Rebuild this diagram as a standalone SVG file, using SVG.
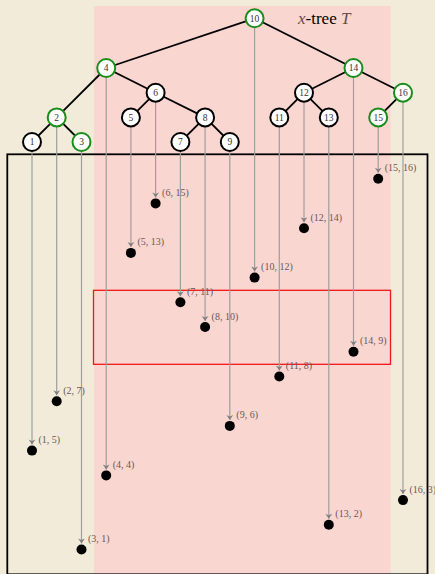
<svg xmlns="http://www.w3.org/2000/svg" width="435" height="574" viewBox="0 0 435 574">
<defs>
<marker id="arr" viewBox="-6 -4 7 8" refX="0" refY="0" markerWidth="7" markerHeight="8" markerUnits="userSpaceOnUse" orient="auto">
<path d="M-5,-3.4 L0,0 L-5,3.4 L-3.5,0 z" fill="#808080"/>
</marker>
<style>
.edge{stroke:#000;stroke-width:1.8;fill:none}
.drop{stroke:#9e9e9e;stroke-width:1.2;fill:none;marker-end:url(#arr)}
.n circle{fill:#fff;stroke:#000;stroke-width:2}
.g circle{fill:#fff;stroke:#1a8c1a;stroke-width:2}
.nt{font-family:"Liberation Serif",serif;font-size:9.5px;fill:#333;text-anchor:middle}
.pt{fill:#000}
.lbl{font-family:"Liberation Serif",serif;font-size:10px;fill:#6e5656}
</style>
</defs>
<rect x="0" y="0" width="435" height="574" fill="#f3ebd9"/>
<rect x="94" y="6" width="296.5" height="570" fill="#fad6d1"/>
<rect x="93.5" y="290.3" width="297" height="74" fill="none" stroke="#f01818" stroke-width="1.3"/>
<rect x="7.3" y="154.3" width="420.2" height="420" fill="none" stroke="#000" stroke-width="1.8"/>
<text x="298" y="24" font-family="Liberation Serif,serif" font-size="17px" fill="#000"><tspan font-style="italic" fill="#6b4a4a">x</tspan>-tree <tspan font-style="italic" fill="#6b4a4a">T</tspan></text>
<g id="connectors">
<line class="edge" x1="254.6" y1="18.3" x2="106.2" y2="68"/>
<line class="edge" x1="254.6" y1="18.3" x2="353.5" y2="68"/>
<line class="edge" x1="106.2" y1="68" x2="56.7" y2="117.4"/>
<line class="edge" x1="106.2" y1="68" x2="155.6" y2="92.7"/>
<line class="edge" x1="56.7" y1="117.4" x2="32" y2="142"/>
<line class="edge" x1="56.7" y1="117.4" x2="81.5" y2="142"/>
<line class="edge" x1="155.6" y1="92.7" x2="130.9" y2="117.4"/>
<line class="edge" x1="155.6" y1="92.7" x2="205.1" y2="117.4"/>
<line class="edge" x1="205.1" y1="117.4" x2="180.4" y2="142"/>
<line class="edge" x1="205.1" y1="117.4" x2="229.8" y2="142"/>
<line class="edge" x1="353.5" y1="68" x2="304" y2="92.7"/>
<line class="edge" x1="353.5" y1="68" x2="403" y2="92.7"/>
<line class="edge" x1="304" y1="92.7" x2="279.3" y2="117.4"/>
<line class="edge" x1="304" y1="92.7" x2="328.8" y2="117.4"/>
<line class="edge" x1="403" y1="92.7" x2="378.2" y2="117.4"/>
<line class="drop" x1="32" y1="151" x2="32" y2="444.6"/>
<line class="drop" x1="56.7" y1="126.4" x2="56.7" y2="395.2"/>
<line class="drop" x1="81.5" y1="151" x2="81.5" y2="543.5"/>
<line class="drop" x1="106.2" y1="77" x2="106.2" y2="469.4"/>
<line class="drop" x1="130.9" y1="126.4" x2="130.9" y2="246.9"/>
<line class="drop" x1="155.6" y1="101.7" x2="155.6" y2="197.4"/>
<line class="drop" x1="180.4" y1="151" x2="180.4" y2="296.3"/>
<line class="drop" x1="205.1" y1="126.4" x2="205.1" y2="321"/>
<line class="drop" x1="229.8" y1="151" x2="229.8" y2="419.9"/>
<line class="drop" x1="254.6" y1="27.3" x2="254.6" y2="271.6"/>
<line class="drop" x1="279.3" y1="126.4" x2="279.3" y2="370.5"/>
<line class="drop" x1="304" y1="101.7" x2="304" y2="222.2"/>
<line class="drop" x1="328.8" y1="126.4" x2="328.8" y2="518.8"/>
<line class="drop" x1="353.5" y1="77" x2="353.5" y2="345.8"/>
<line class="drop" x1="378.2" y1="126.4" x2="378.2" y2="172.7"/>
<line class="drop" x1="403" y1="101.7" x2="403" y2="494.1"/>
</g>
<g id="node10" class="g"><circle cx="254.6" cy="18.3" r="9"/><text class="nt" x="254.6" y="21.6">10</text></g>
<g id="node4" class="g"><circle cx="106.2" cy="68" r="9"/><text class="nt" x="106.2" y="71.3">4</text></g>
<g id="node14" class="g"><circle cx="353.5" cy="68" r="9"/><text class="nt" x="353.5" y="71.3">14</text></g>
<g id="node6" class="n"><circle cx="155.6" cy="92.7" r="9"/><text class="nt" x="155.6" y="96">6</text></g>
<g id="node12" class="n"><circle cx="304" cy="92.7" r="9"/><text class="nt" x="304" y="96">12</text></g>
<g id="node16" class="g"><circle cx="403" cy="92.7" r="9"/><text class="nt" x="403" y="96">16</text></g>
<g id="node2" class="g"><circle cx="56.7" cy="117.4" r="9"/><text class="nt" x="56.7" y="120.7">2</text></g>
<g id="node5" class="n"><circle cx="130.9" cy="117.4" r="9"/><text class="nt" x="130.9" y="120.7">5</text></g>
<g id="node8" class="n"><circle cx="205.1" cy="117.4" r="9"/><text class="nt" x="205.1" y="120.7">8</text></g>
<g id="node11" class="n"><circle cx="279.3" cy="117.4" r="9"/><text class="nt" x="279.3" y="120.7">11</text></g>
<g id="node13" class="n"><circle cx="328.8" cy="117.4" r="9"/><text class="nt" x="328.8" y="120.7">13</text></g>
<g id="node15" class="g"><circle cx="378.2" cy="117.4" r="9"/><text class="nt" x="378.2" y="120.7">15</text></g>
<g id="node1" class="n"><circle cx="32" cy="142" r="9"/><text class="nt" x="32" y="145.3">1</text></g>
<g id="node3" class="g"><circle cx="81.5" cy="142" r="9"/><text class="nt" x="81.5" y="145.3">3</text></g>
<g id="node7" class="n"><circle cx="180.4" cy="142" r="9"/><text class="nt" x="180.4" y="145.3">7</text></g>
<g id="node9" class="n"><circle cx="229.8" cy="142" r="9"/><text class="nt" x="229.8" y="145.3">9</text></g>
<g id="p1"><circle class="pt" cx="32" cy="450.6" r="5"/><text class="lbl" x="38.5" y="443.1">(1, 5)</text></g>
<g id="p2"><circle class="pt" cx="56.7" cy="401.2" r="5"/><text class="lbl" x="63.2" y="393.7">(2, 7)</text></g>
<g id="p3"><circle class="pt" cx="81.5" cy="549.5" r="5"/><text class="lbl" x="88" y="542">(3, 1)</text></g>
<g id="p4"><circle class="pt" cx="106.2" cy="475.4" r="5"/><text class="lbl" x="112.7" y="467.9">(4, 4)</text></g>
<g id="p5"><circle class="pt" cx="130.9" cy="252.9" r="5"/><text class="lbl" x="137.4" y="245.4">(5, 13)</text></g>
<g id="p6"><circle class="pt" cx="155.6" cy="203.4" r="5"/><text class="lbl" x="162.1" y="195.9">(6, 15)</text></g>
<g id="p7"><circle class="pt" cx="180.4" cy="302.3" r="5"/><text class="lbl" x="186.9" y="294.8">(7, 11)</text></g>
<g id="p8"><circle class="pt" cx="205.1" cy="327" r="5"/><text class="lbl" x="211.6" y="319.5">(8, 10)</text></g>
<g id="p9"><circle class="pt" cx="229.8" cy="425.9" r="5"/><text class="lbl" x="236.3" y="418.4">(9, 6)</text></g>
<g id="p10"><circle class="pt" cx="254.6" cy="277.6" r="5"/><text class="lbl" x="261.1" y="270.1">(10, 12)</text></g>
<g id="p11"><circle class="pt" cx="279.3" cy="376.5" r="5"/><text class="lbl" x="285.8" y="369">(11, 8)</text></g>
<g id="p12"><circle class="pt" cx="304" cy="228.2" r="5"/><text class="lbl" x="310.5" y="220.7">(12, 14)</text></g>
<g id="p13"><circle class="pt" cx="328.8" cy="524.8" r="5"/><text class="lbl" x="335.3" y="517.3">(13, 2)</text></g>
<g id="p14"><circle class="pt" cx="353.5" cy="351.8" r="5"/><text class="lbl" x="360" y="344.3">(14, 9)</text></g>
<g id="p15"><circle class="pt" cx="378.2" cy="178.7" r="5"/><text class="lbl" x="384.7" y="171.2">(15, 16)</text></g>
<g id="p16"><circle class="pt" cx="403" cy="500.1" r="5"/><text class="lbl" x="409.5" y="492.6">(16, 3)</text></g>
</svg>
